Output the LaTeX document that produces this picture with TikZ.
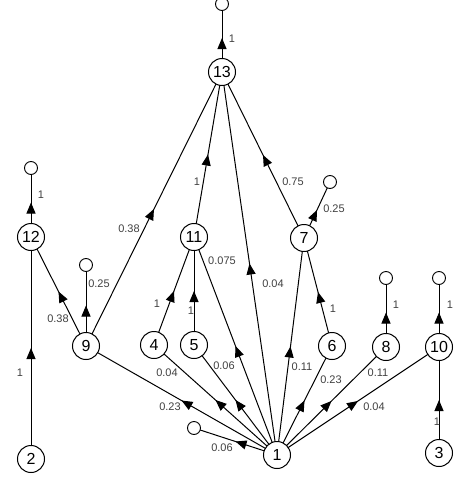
\documentclass[tikz,border=0pt]{standalone}
\usepackage{fontspec}
\setmainfont{Liberation Sans}
\usetikzlibrary{arrows.meta,decorations.markings,backgrounds}
\begin{document}
\begin{tikzpicture}[x=1pt,y=-1pt,
  st/.style={circle,draw,line width=1pt,fill=white,minimum size=27pt,inner sep=0pt,font=\fontsize{16}{16}\selectfont},
  sink/.style={circle,draw,line width=0.9pt,fill=white,minimum size=13pt,inner sep=0pt},
  edge/.style={line width=1pt, postaction={decorate}, decoration={markings, mark=at position 0.5 with {\arrow{Triangle[length=11pt,width=9pt]}}}},
  lbl/.style={font=\fontsize{11}{11}\selectfont, text=black!75, inner sep=0pt}]
\useasboundingbox (0,0) rectangle (454,477);
% states
\node[st] (n13) at (222,72) {13};
\node[st] (n12) at (31,237) {12};
\node[st] (n11) at (194,237) {11};
\node[st] (n7) at (304,238) {7};
\node[st] (n9) at (86,346) {9};
\node[st] (n4) at (154,345) {4};
\node[st] (n5) at (194,345) {5};
\node[st] (n6) at (332,346) {6};
\node[st] (n8) at (386,347) {8};
\node[st] (n10) at (439,347) {10};
\node[st] (n2) at (31,459) {2};
\node[st] (n1) at (277,455) {1};
\node[st] (n3) at (439,453) {3};
% sinks
\node[sink] (t13) at (222,4) {};
\node[sink] (t12) at (31,168) {};
\node[sink] (t7) at (330,182) {};
\node[sink] (t9) at (86,265) {};
\node[sink] (t8) at (386,278) {};
\node[sink] (t10) at (439,278) {};
\node[sink] (t1) at (194,428) {};
% edges
\begin{scope}[on background layer]
\draw[edge] (n13.center) -- (t13.center);
\draw[edge] (n12.center) -- (t12.center);
\draw[edge] (n2.center) -- (n12.center);
\draw[edge] (n9.center) -- (n12.center);
\draw[edge] (n9.center) -- (t9.center);
\draw[edge] (n9.center) -- (n13.center);
\draw[edge] (n11.center) -- (n13.center);
\draw[edge] (n7.center) -- (n13.center);
\draw[edge] (n7.center) -- (t7.center);
\draw[edge] (n4.center) -- (n11.center);
\draw[edge] (n5.center) -- (n11.center);
\draw[edge] (n6.center) -- (n7.center);
\draw[edge] (n8.center) -- (t8.center);
\draw[edge] (n10.center) -- (t10.center);
\draw[edge] (n3.center) -- (n10.center);
\draw[edge] (n1.center) -- (t1.center);
\draw[edge] (n1.center) -- (n9.center);
\draw[edge] (n1.center) -- (n4.center);
\draw[edge] (n1.center) -- (n5.center);
\draw[edge] (n1.center) -- (n11.center);
\draw[edge] (n1.center) -- (n13.center);
\draw[edge] (n1.center) -- (n7.center);
\draw[edge] (n1.center) -- (n6.center);
\draw[edge] (n1.center) -- (n8.center);
\draw[edge] (n1.center) -- (n10.center);
\end{scope}
% labels
\node[lbl] (l1) at (232,39) {1};
\node[lbl] (l2) at (41,195) {1};
\node[lbl] (l3) at (20,373) {1};
\node[lbl] (l4) at (58,319) {0.38};
\node[lbl] (l5) at (99,284) {0.25};
\node[lbl] (l6) at (129,229) {0.38};
\node[lbl] (l7) at (197,182) {1};
\node[lbl] (l8) at (293,182) {0.75};
\node[lbl] (l9) at (334,209) {0.25};
\node[lbl] (l10) at (157,304) {1};
\node[lbl] (l11) at (191,311) {1};
\node[lbl] (l12) at (222,261) {0.075};
\node[lbl] (l13) at (273,284) {0.04};
\node[lbl] (l14) at (333,309) {1};
\node[lbl] (l15) at (396,305) {1};
\node[lbl] (l16) at (450,305) {1};
\node[lbl] (l17) at (437,422) {1};
\node[lbl] (l18) at (167,373) {0.04};
\node[lbl] (l19) at (224,366) {0.06};
\node[lbl] (l20) at (170,407) {0.23};
\node[lbl] (l21) at (222,448) {0.06};
\node[lbl] (l22) at (302,367) {0.11};
\node[lbl] (l23) at (331,380) {0.23};
\node[lbl] (l24) at (378,373) {0.11};
\node[lbl] (l25) at (374,407) {0.04};
\end{tikzpicture}
\end{document}
